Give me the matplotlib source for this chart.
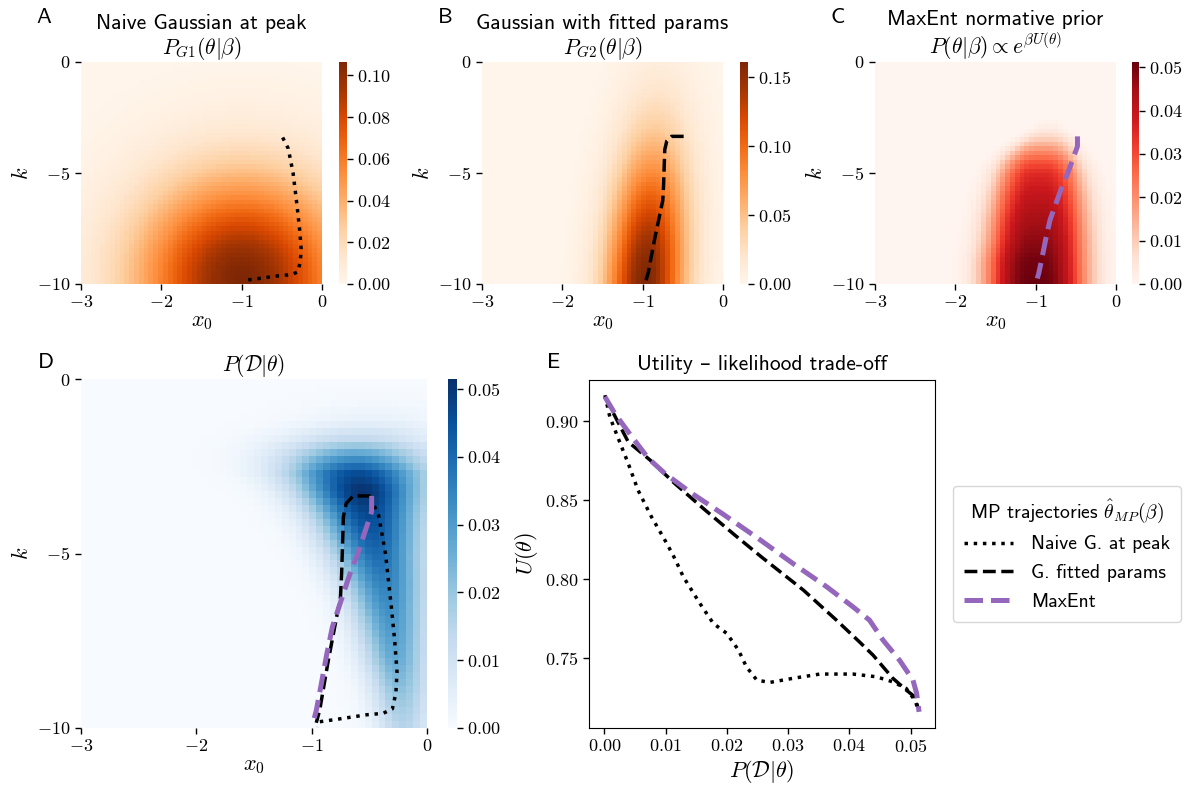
import numpy as np
import matplotlib
matplotlib.use("Agg")
import matplotlib.pyplot as plt
from matplotlib.lines import Line2D
from matplotlib.ticker import FixedLocator, FuncFormatter

plt.rcParams['mathtext.fontset'] = 'cm'
plt.rcParams['font.family'] = ['cmss10', 'DejaVu Sans']
plt.rcParams['axes.unicode_minus'] = False

# ---------------- data ----------------
x0_ticks = [-3, -2, -1, 0]
k_ticks = [0, -5, -10]
n_grid = 50

# Panel A: naive Gaussian at peak (mean x0, mean k, sd x0, sd k, peak)
gA_mean = [-1.0, -9.8]
gA_sd = [0.9, 3.2]
gA_peak = 0.1064

# Panel B: Gaussian with fitted params (mean drifts in x0 with k)
gB_mean = [-0.97, -10.0]
gB_drift = 0.017
gB_sd = [0.34, 4.3]
gB_peak = 0.161

# Panel C: MaxEnt prior, ridge description
C_k = [-10, -9, -8, -7, -6, -5, -4.5, -4, -3.5, -3, -2.5]
C_center = [-1.0, -1.0, -0.98, -0.97, -0.96, -0.95, -0.94, -0.92, -0.88, -0.85, -0.8]
C_halfw = [0.62, 0.62, 0.6, 0.58, 0.55, 0.5, 0.46, 0.4, 0.32, 0.2, 0.1]
C_amp = [0.0512, 0.05, 0.047, 0.044, 0.04, 0.035, 0.029, 0.02, 0.01, 0.003, 0.0]

# Panel D: likelihood P(D|theta), ridge description
D_k = [-10, -9, -8, -7, -6, -5, -4, -3.2, -2.7, -2.2, -1.7, -1.2, -0.6, 0]
D_center = [-0.2, -0.23, -0.27, -0.31, -0.36, -0.43, -0.5, -0.56, -0.6, -0.62, -0.6, -0.5, -0.4, -0.3]
D_sd = [0.17, 0.18, 0.2, 0.22, 0.25, 0.28, 0.32, 0.37, 0.42, 0.45, 0.47, 0.47, 0.47, 0.47]
D_amp = [0.015, 0.021, 0.027, 0.031, 0.035, 0.04, 0.046, 0.0515, 0.046, 0.03, 0.013, 0.004, 0.001, 0.0]

# MP trajectories in (x0, k)
naive_x0 = [-0.49, -0.42, -0.36, -0.31, -0.28, -0.26, -0.27, -0.30, -0.38, -0.52, -0.64, -0.80, -0.93, -0.95]
naive_k = [-3.4, -3.9, -5.0, -6.5, -7.5, -8.4, -9.0, -9.45, -9.58, -9.62, -9.68, -9.76, -9.82, -9.97]
fitted_x0 = [-0.49, -0.64, -0.70, -0.725, -0.74, -0.75, -0.80, -0.855, -0.93, -0.96]
fitted_k = [-3.35, -3.35, -3.56, -3.95, -5.57, -6.24, -7.1, -8.05, -9.48, -9.85]
maxent_x0 = [-0.48, -0.48, -0.52, -0.60, -0.67, -0.75, -0.82, -0.87, -0.92, -0.96, -0.98]
maxent_k = [-3.35, -3.8, -4.2, -5.0, -5.6, -6.4, -7.1, -7.9, -8.8, -9.5, -9.75]

# Panel E: utility vs likelihood along trajectories
naive_P = [0.0001, 0.0009, 0.0026, 0.0039, 0.0055, 0.0077, 0.0102, 0.0115, 0.0129, 0.0156, 0.0178,
           0.0200, 0.0219, 0.0232, 0.0249, 0.0270, 0.0308, 0.0352, 0.0406, 0.0444, 0.0471, 0.0493,
           0.0507, 0.0512]
naive_U = [0.9164, 0.9027, 0.8859, 0.8733, 0.8564, 0.8395, 0.8227, 0.8132, 0.8016, 0.7848, 0.7721,
           0.7658, 0.7553, 0.7447, 0.7363, 0.7348, 0.7374, 0.7401, 0.7401, 0.7384, 0.7352, 0.7310,
           0.7236, 0.7185]
fitted_P = [0.0001, 0.0039, 0.0075, 0.0115, 0.0164, 0.0213, 0.0257, 0.0325, 0.0379, 0.0417, 0.0439,
            0.0471, 0.0493, 0.0507, 0.0512]
fitted_U = [0.9154, 0.8869, 0.8753, 0.8606, 0.8440, 0.8280, 0.8140, 0.7932, 0.7742, 0.7603, 0.7520,
            0.7375, 0.7300, 0.7257, 0.7190]
maxent_P = [0.0001, 0.0017, 0.0045, 0.0072, 0.0099, 0.0143, 0.0192, 0.0251, 0.0308, 0.0363, 0.0406,
            0.0433, 0.0455, 0.0482, 0.0504, 0.0510, 0.0514]
maxent_U = [0.9154, 0.9049, 0.8901, 0.8764, 0.8669, 0.8543, 0.8417, 0.8259, 0.8100, 0.7953, 0.7826,
            0.7742, 0.7616, 0.7489, 0.7363, 0.7279, 0.7162]

E_xticks = [0.00, 0.01, 0.02, 0.03, 0.04, 0.05]
E_yticks = [0.75, 0.80, 0.85, 0.90]
cbar_ticks = [
    [0.00, 0.02, 0.04, 0.06, 0.08, 0.10],
    [0.00, 0.05, 0.10, 0.15],
    [0.00, 0.01, 0.02, 0.03, 0.04, 0.05],
    [0.00, 0.01, 0.02, 0.03, 0.04, 0.05],
]

# ---------------- fields ----------------
x_edges = np.linspace(-3, 0, n_grid + 1)
k_edges = np.linspace(-10, 0, n_grid + 1)
xc = 0.5 * (x_edges[:-1] + x_edges[1:])
kc = 0.5 * (k_edges[:-1] + k_edges[1:])
X, K = np.meshgrid(xc, kc)

ZA = gA_peak * np.exp(-0.5 * ((X - gA_mean[0]) / gA_sd[0]) ** 2 - 0.5 * ((K - gA_mean[1]) / gA_sd[1]) ** 2)
muB = gB_mean[0] + gB_drift * (K - gB_mean[1])
ZB = gB_peak * np.exp(-0.5 * ((X - muB) / gB_sd[0]) ** 2 - 0.5 * ((K - gB_mean[1]) / gB_sd[1]) ** 2)
cC = np.interp(K, C_k, C_center)
hC = np.interp(K, C_k, C_halfw)
aC = np.interp(K, C_k, C_amp)
ZC = aC * np.exp(-(np.abs(X - cC) / np.maximum(hC, 1e-3)) ** 3)
cD = np.interp(K, D_k, D_center)
sD = np.interp(K, D_k, D_sd)
aD = np.interp(K, D_k, D_amp)
ZD = aD * np.exp(-0.5 * ((X - cD) / sD) ** 2)

# ---------------- figure ----------------
W, H = 1194, 787
fig = plt.figure(figsize=(W / 100, H / 100), dpi=100)


def rect(l, r, t, b):
    return [l / W, 1 - b / H, (r - l) / W, (b - t) / H]


purple = '#9467bd'
math_fmt0 = FuncFormatter(lambda v, p: f'${v:.0f}$')
math_fmt2 = FuncFormatter(lambda v, p: f'${v:.2f}$')

TICK = 13
LAB = 16
TIT = 15.5
LET = 16


def heat(ax_rect, cax_rect, Z, cmap, vmax, ticks, title, letter, letter_xy, pad):
    ax = fig.add_axes(rect(*ax_rect))
    m = ax.pcolormesh(x_edges, k_edges, Z, cmap=cmap, vmin=0, vmax=vmax, shading='flat', rasterized=True)
    ax.set_xlim(-3, 0)
    ax.set_ylim(-10, 0)
    for s in ax.spines.values():
        s.set_visible(False)
    ax.xaxis.set_major_locator(FixedLocator(x0_ticks))
    ax.yaxis.set_major_locator(FixedLocator(k_ticks))
    ax.xaxis.set_major_formatter(math_fmt0)
    ax.yaxis.set_major_formatter(math_fmt0)
    ax.tick_params(labelsize=TICK, length=4, width=1)
    ax.set_xlabel('$x_0$', fontsize=LAB, labelpad=2)
    ax.set_ylabel('$k$', fontsize=LAB)
    ax.set_title(title, fontsize=TIT, pad=pad, linespacing=1.1)
    cax = fig.add_axes(rect(*cax_rect))
    cb = fig.colorbar(m, cax=cax)
    cb.outline.set_visible(False)
    cb.set_ticks(ticks)
    cb.ax.yaxis.set_major_formatter(math_fmt2)
    cb.ax.tick_params(labelsize=TICK, length=4, width=1)
    fig.text(letter_xy[0] / W, 1 - letter_xy[1] / H, letter, fontsize=LET, va='top', ha='left')
    return ax


axA = heat((81, 322, 62, 284), (339, 347, 62, 284), ZA, 'Oranges', gA_peak, cbar_ticks[0],
           'Naive Gaussian at peak\n' + r'$P_{G1}(\theta|\beta)$', 'A', (36, 8), 5)
axB = heat((482, 723, 62, 284), (740, 748, 62, 284), ZB, 'Oranges', gB_peak, cbar_ticks[1],
           'Gaussian with fitted params\n' + r'$P_{G2}(\theta|\beta)$', 'B', (438, 8), 5)
axC = heat((875, 1116, 62, 284), (1132, 1139, 62, 284), ZC, 'Reds', max(C_amp), cbar_ticks[2],
           'MaxEnt normative prior\n' + r'$P(\theta|\beta) \propto e^{\beta U(\theta)}$', 'C', (831, 8), 5)
axD = heat((81, 427, 379, 728), (448, 457, 379, 728), ZD, 'Blues', max(D_amp), cbar_ticks[3],
           r'$P(\mathcal{D}|\theta)$', 'D', (38, 353), 5)

lw_k = 2.5
lw_p = 3.6
axA.plot(naive_x0, naive_k, color='black', ls=':', lw=lw_k)
axB.plot(fitted_x0, fitted_k, color='black', ls='--', lw=lw_k)
axC.plot(maxent_x0, maxent_k, color=purple, ls='--', lw=lw_p)
axD.plot(naive_x0, naive_k, color='black', ls=':', lw=lw_k)
axD.plot(fitted_x0, fitted_k, color='black', ls='--', lw=lw_k)
axD.plot(maxent_x0, maxent_k, color=purple, ls='--', lw=lw_p)

# Panel E
axE = fig.add_axes(rect(589, 935, 380, 728))
axE.plot(naive_P, naive_U, color='black', ls=':', lw=lw_k)
axE.plot(fitted_P, fitted_U, color='black', ls='--', lw=lw_k)
axE.plot(maxent_P, maxent_U, color=purple, ls='--', lw=lw_p)
axE.set_xlim(-0.0025, 0.0540)
axE.set_ylim(0.706, 0.926)
axE.xaxis.set_major_locator(FixedLocator(E_xticks))
axE.yaxis.set_major_locator(FixedLocator(E_yticks))
axE.xaxis.set_major_formatter(math_fmt2)
axE.yaxis.set_major_formatter(math_fmt2)
axE.tick_params(labelsize=TICK, length=4, width=1)
axE.set_xlabel(r'$P(\mathcal{D}|\theta)$', fontsize=LAB, labelpad=2)
axE.set_ylabel(r'$U(\theta)$', fontsize=LAB)
axE.set_title('Utility \u2013 likelihood trade-off', fontsize=TIT, pad=7)
fig.text(547 / W, 1 - 353 / H, 'E', fontsize=LET, va='top', ha='left')

handles = [
    Line2D([], [], color='black', ls=':', lw=lw_k),
    Line2D([], [], color='black', ls='--', lw=lw_k),
    Line2D([], [], color=purple, ls='--', lw=lw_p),
]
labels = ['Naive G. at peak', 'G. fitted params', 'MaxEnt']
leg = axE.legend(handles, labels, title=r'MP trajectories $\hat{\theta}_{MP}(\beta)$',
                 loc='center left', bbox_to_anchor=(1.052, 0.5), borderaxespad=0,
                 fontsize=14.2, title_fontsize=14.2, handlelength=2.5, frameon=True,
                 labelspacing=0.55, borderpad=0.55, handletextpad=0.9)
leg.get_frame().set_edgecolor('#cccccc')

fig.savefig('out.png', dpi=100)
